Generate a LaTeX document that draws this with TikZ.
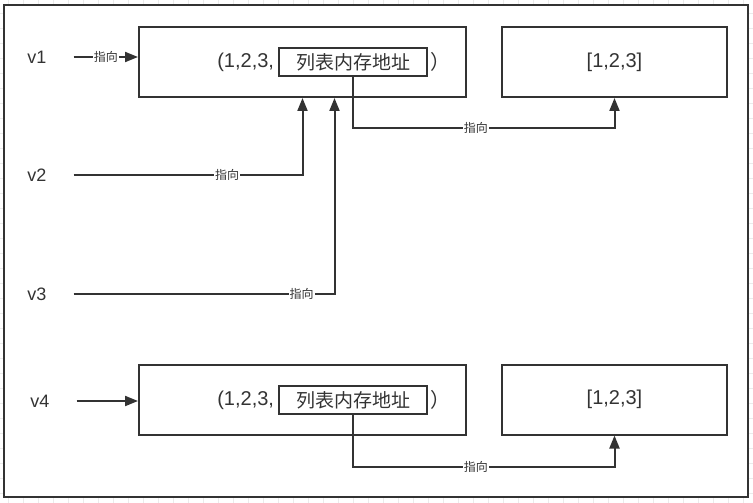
\documentclass[tikz,border=0pt]{standalone}
\usepackage{fontspec}
\setmainfont{Liberation Sans}
\newfontfamily\cjk{Noto Sans CJK SC}
\usepackage{tikz}
\usetikzlibrary{arrows.meta, positioning}
\definecolor{ink}{HTML}{333333}
\definecolor{gridgray}{HTML}{EBEBEB}

\begin{document}
\begin{tikzpicture}[
    x=1pt, y=-1pt,
    box/.style={rectangle, draw=ink, line width=2pt, minimum width=327pt, minimum height=70pt, text=ink, font=\fontsize{20}{24}\selectfont},
    addrbox/.style={rectangle, draw=ink, line width=2pt, minimum width=148pt, minimum height=28pt, inner sep=0pt, text=ink, font=\cjk\fontsize{19}{24}\selectfont},
    vname/.style={inner sep=0pt, text=ink, font=\fontsize{18}{22}\selectfont},
    arrow/.style={-{Triangle[length=13pt, width=10pt]}, draw=ink, line width=2pt},
    lbl/.style={fill=white, inner sep=1pt, text=ink, font=\cjk\fontsize{12}{14}\selectfont},
]
    % canvas with grid
    \useasboundingbox (0,0) rectangle (753,503);
    \foreach \gx in {8,23,...,753} \draw[gridgray, line width=0.6pt] (\gx,0) -- (\gx,503);
    \foreach \gy in {13,28,...,503} \draw[gridgray, line width=0.6pt] (0,\gy) -- (753,\gy);
    \draw[ink, line width=2.2pt, fill=white] (4,5) rectangle (748,497);

    % first tuple and list
    \node[box] (tuple1) at (302.5,62) {};
    \node[box, minimum width=225pt, right=34pt of tuple1] (list1) {[1,2,3]};
    \node[addrbox] (addr1) at (353,62) {列表内存地址};
    \node[box, draw=none, minimum size=0pt, inner sep=0pt, left=3pt of addr1] (open1) {(1,2,3,};
    \node[box, draw=none, minimum size=0pt, inner sep=0pt, font=\cjk\fontsize{20}{24}\selectfont, right=1pt of addr1] (close1) {）};

    % second tuple and list
    \node[box] (tuple2) at (302.5,399.5) {};
    \node[box, minimum width=225pt, right=34pt of tuple2] (list2) {[1,2,3]};
    \node[addrbox] (addr2) at (353,400) {列表内存地址};
    \node[box, draw=none, minimum size=0pt, inner sep=0pt, left=3pt of addr2] (open2) {(1,2,3,};
    \node[box, draw=none, minimum size=0pt, inner sep=0pt, font=\cjk\fontsize{20}{24}\selectfont, right=1pt of addr2] (close2) {）};

    % variables
    \node[vname] (v1) at (37,57) {v1};
    \node[vname] (v2) at (37,175) {v2};
    \node[vname] (v3) at (37,294) {v3};
    \node[vname] (v4) at (40,401) {v4};

    \draw[arrow] ([xshift=27pt]v1.east) -- (v1 -| tuple1.west) node[midway, lbl] {指向};
    \draw[arrow] ([xshift=27pt]v2.east) -| (tuple1.south) node[pos=0.335, lbl] {指向};
    \draw[arrow] ([xshift=27pt]v3.east) -| ([xshift=32pt]tuple1.south) node[pos=0.437, lbl] {指向};
    \draw[arrow] ([xshift=27pt]v4.east) -- (v4 -| tuple2.west);

    \draw[arrow] (addr1.south) |- ([yshift=-30pt]list1.south) node[pos=0.735, lbl] {指向} -- (list1.south);
    \draw[arrow] (addr2.south) |- ([yshift=-31pt]list2.south) node[pos=0.735, lbl] {指向} -- (list2.south);
\end{tikzpicture}
\end{document}
